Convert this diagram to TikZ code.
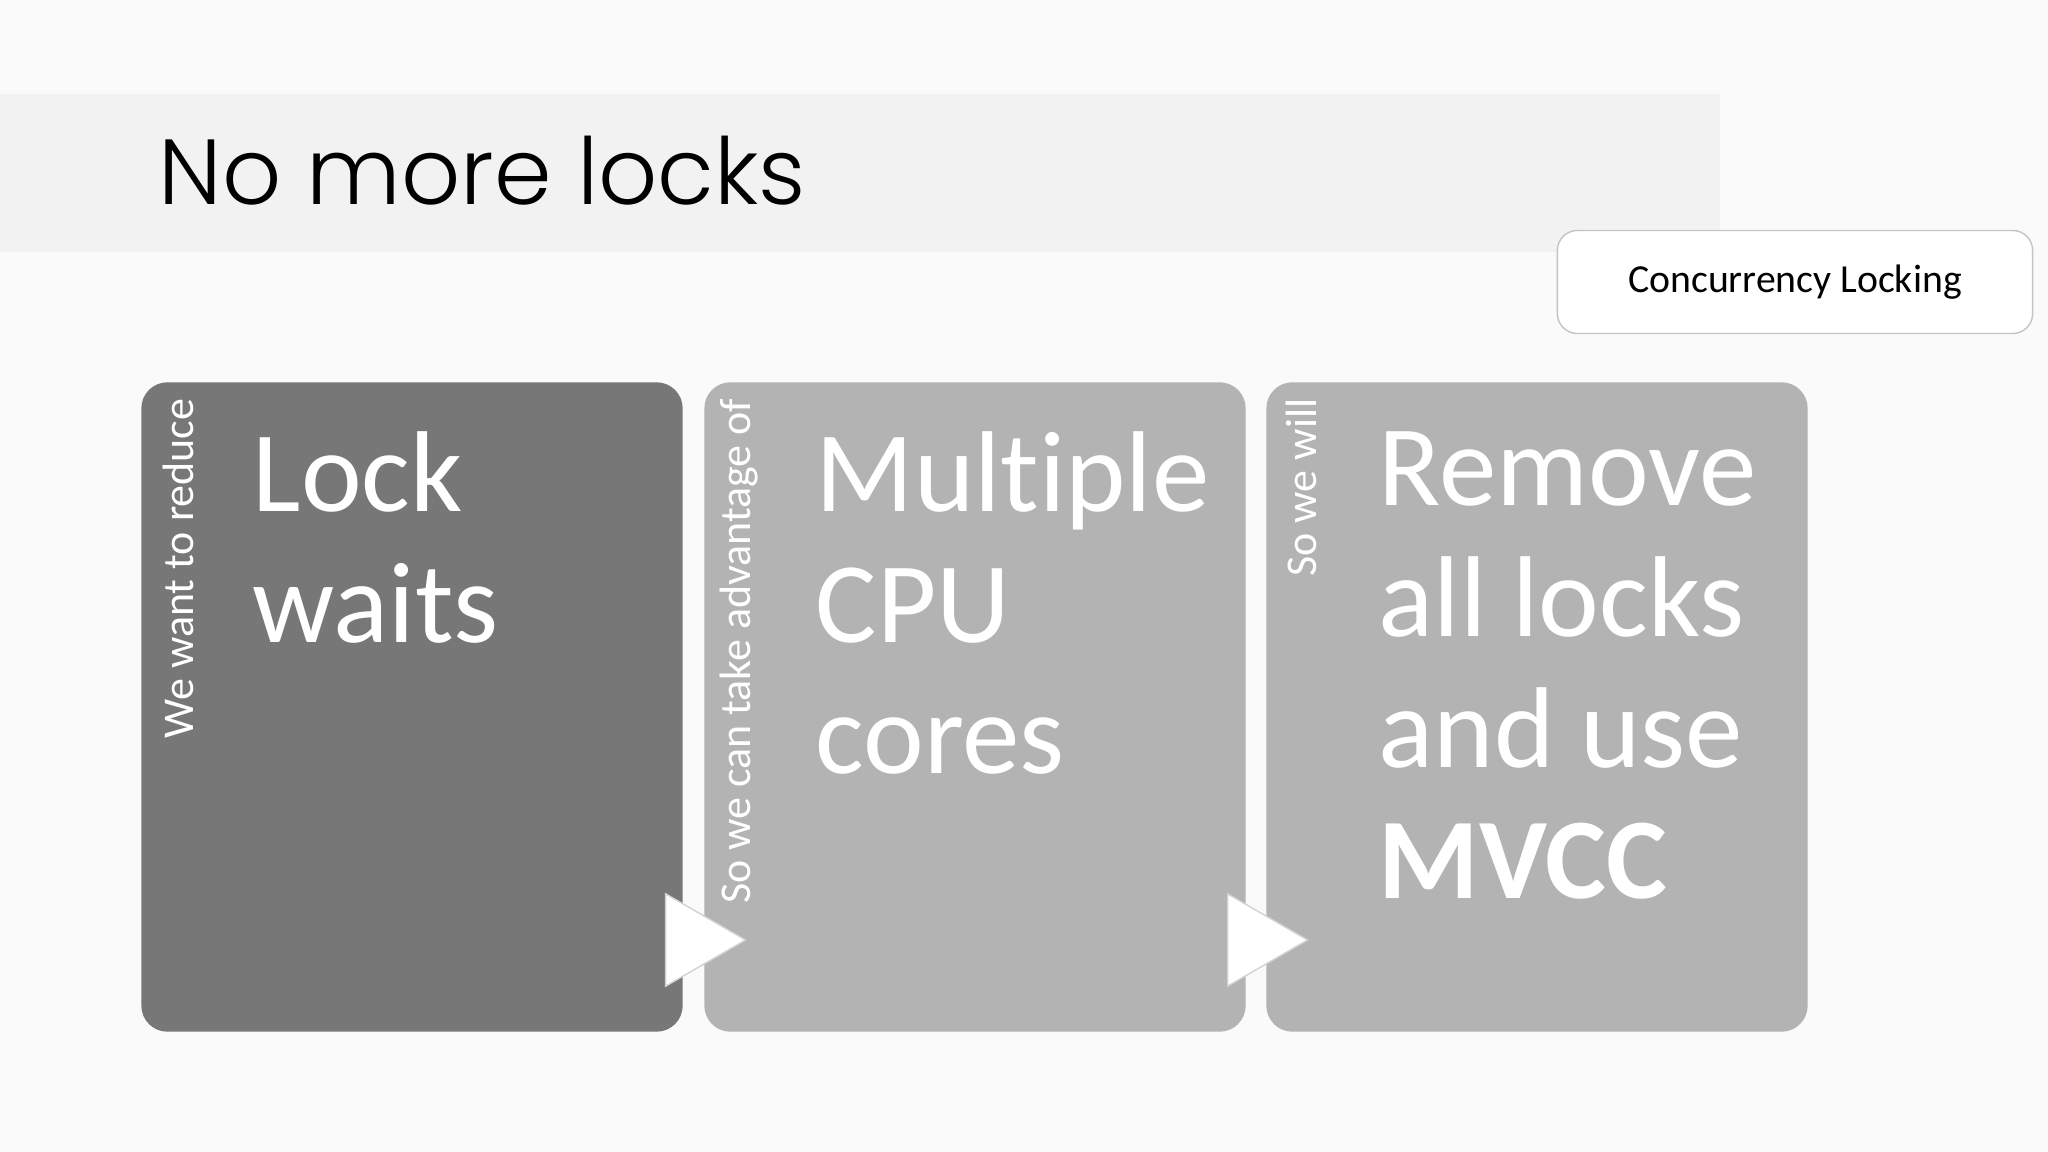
\documentclass[tikz,border=0pt]{standalone}
\usepackage{fontspec}
\usepackage{xcolor}
\usetikzlibrary{shapes.geometric}
\setmainfont{Carlito}[Ligatures={NoCommon,NoContextual}]
\newfontfamily\titlefont{Poppins}[UprightFont=* Light]
\definecolor{slidebg}{HTML}{FAFAFA}
\definecolor{bandgray}{HTML}{F2F2F2}
\definecolor{darkstage}{HTML}{777777}
\definecolor{lightstage}{HTML}{B3B3B3}
\definecolor{tagline}{HTML}{C4C4C4}

\begin{document}
\begin{tikzpicture}[x=0.01cm, y=-0.01cm,
  stage/.style={rectangle, rounded corners=0.26cm, minimum width=5.41cm, minimum height=6.49cm, inner sep=0pt},
  sidelabel/.style={rotate=90, anchor=east, text=white, inner sep=0pt, font=\fontsize{12.5}{14}\selectfont},
  bigtext/.style={anchor=north west, align=left, text=white, inner sep=0pt, font=\fontsize{32.7}{37.3}\selectfont},
  chevron/.style={isosceles triangle, isosceles triangle apex angle=60, minimum size=0.8cm, inner sep=0pt, fill=white, draw=gray!35, anchor=apex}]
\useasboundingbox[fill=slidebg] (0,0) rectangle (2048,1152);
\fill[bandgray] (0,94) rectangle (1720,252);

\node[anchor=base west, inner sep=0pt, font=\titlefont\fontsize{26.3}{30}\selectfont] (title) at (158,205) {No more locks};
\node[rectangle, rounded corners=0.2cm, draw=tagline, fill=white, minimum width=4.75cm, minimum height=1.03cm, font=\fontsize{11.3}{13}\selectfont] (tag) at (1795,282) {Concurrency Locking};

\node[stage, fill=darkstage] (lock) at (412,707) {};
\node[stage, fill=lightstage] (cores) at (975,707) {};
\node[stage, fill=lightstage] (mvcc) at (1537,707) {};

\node[sidelabel] (lockcue) at (178,398) {We want to reduce};
\node[sidelabel] (corescue) at (739,398) {So we can take advantage of};
\node[sidelabel] (mvcccue) at (1301,398) {So we will};

\node[bigtext] (locktext) at (252,431) {Lock\\waits};
\node[bigtext] (corestext) at (815,431) {Multiple\\CPU\\cores};
\node[bigtext] (mvcctext) at (1378,431) {Remove\\all locks\\and use\\\textbf{MVCC}};

\node[chevron] (arrA) at (747,940) {};
\node[chevron] (arrB) at (1309,940) {};
\end{tikzpicture}
\end{document}
